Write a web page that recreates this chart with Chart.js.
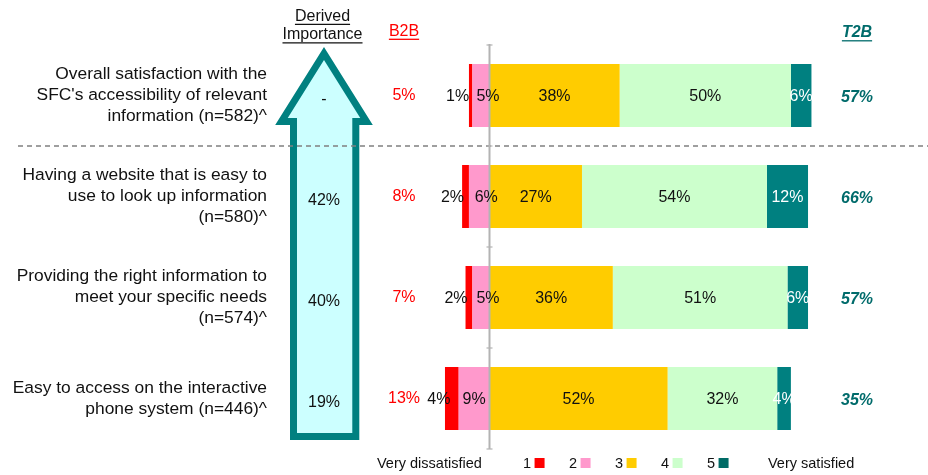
<!DOCTYPE html>
<html><head><meta charset="utf-8">
<script src="https://cdn.jsdelivr.net/npm/chart.js@4.4.1/dist/chart.umd.min.js"></script>
<style>html,body{margin:0;padding:0;background:#fff;} #wrap{width:928px;height:475px;position:relative;}</style>
</head><body><div id="wrap"><canvas id="c" width="928" height="475"></canvas></div>
<script>
const categories = [
  ["Overall satisfaction with the","SFC's accessibility of relevant","information (n=582)^"],
  ["Having a website that is easy to","use to look up information","(n=580)^"],
  ["Providing the right information to","meet your specific needs","(n=574)^"],
  ["Easy to access on the interactive","phone system (n=446)^"]
];
const scoreLabels = ["1","2","3","4","5"];
const score1 = [1,2,2,4];
const score2 = [5,6,5,9];
const score3 = [38,27,36,52];
const score4 = [50,54,51,32];
const score5 = [6,12,6,4];
const b2b = ["5%","8%","7%","13%"];
const t2b = ["57%","66%","57%","35%"];
const derivedImportance = ["-","42%","40%","19%"];

const colors = ["#ff0000","#ff99cc","#ffcc00","#ccffcc","#008080"];
const FONT = "'Liberation Sans', Arial, sans-serif";

function ds(scoreIdx, values, negative){
  return {
    label: scoreLabels[scoreIdx],
    score: scoreIdx,
    raw: values,
    data: values.map(v => negative ? -v : v),
    backgroundColor: colors[scoreIdx],
    borderWidth: 0,
    barPercentage: 1,
    categoryPercentage: 0.624
  };
}

const decor = {
  id: 'decor',
  beforeDatasetsDraw(chart){
    const ctx = chart.ctx, y = chart.scales.y, x = chart.scales.x;
    ctx.save();
    // left category labels
    ctx.fillStyle = '#111';
    ctx.font = "17.4px " + FONT;
    ctx.textAlign = 'right';
    ctx.textBaseline = 'middle';
    categories.forEach((lines,i)=>{
      const cy = y.getPixelForValue(i);
      lines.forEach((t,k)=>{
        ctx.fillText(t, 267, cy + (k-(lines.length-1)/2)*21);
      });
    });
    // headers
    ctx.textAlign = 'center';
    ctx.font = "16px " + FONT;
    ctx.fillStyle = '#111';
    function under(text, cx, cy, color){
      const w = ctx.measureText(text).width;
      ctx.fillText(text, cx, cy);
      ctx.strokeStyle = color; ctx.lineWidth = 1.3;
      ctx.beginPath(); ctx.moveTo(cx-w/2, cy+7.8); ctx.lineTo(cx+w/2, cy+7.8); ctx.stroke();
    }
    under("Derived", 322.5, 16.5, '#111');
    under("Importance", 322.5, 35, '#111');
    ctx.fillStyle = '#ff0000';
    under("B2B", 404, 31.5, '#ff0000');
    ctx.fillStyle = '#006b6b';
    ctx.font = "italic bold 16px " + FONT;
    under("T2B", 857, 33, '#006b6b');

    // arrow
    ctx.beginPath();
    ctx.moveTo(324, 53.5);
    ctx.lineTo(366.5, 121.5);
    ctx.lineTo(355.8, 121.5);
    ctx.lineTo(355.8, 436.5);
    ctx.lineTo(293.5, 436.5);
    ctx.lineTo(293.5, 121.5);
    ctx.lineTo(281.5, 121.5);
    ctx.closePath();
    ctx.fillStyle = '#ccffff';
    ctx.fill();
    ctx.lineJoin = 'miter';
    ctx.lineWidth = 7;
    ctx.strokeStyle = '#008080';
    ctx.stroke();

    // arrow values and B2B
    ctx.font = "16px " + FONT;
    ctx.textAlign = 'center';
    derivedImportance.forEach((t,i)=>{
      ctx.fillStyle = '#111';
      ctx.fillText(t, 324, y.getPixelForValue(i)+4);
    });
    b2b.forEach((t,i)=>{
      ctx.fillStyle = '#ff0000';
      ctx.fillText(t, 404, y.getPixelForValue(i)+0.5);
    });

    // dashed separator between first and second category
    const sepY = (y.getPixelForValue(0)+y.getPixelForValue(1))/2;
    ctx.setLineDash([5,4]);
    ctx.strokeStyle = '#808080';
    ctx.lineWidth = 1.3;
    ctx.beginPath(); ctx.moveTo(18, sepY); ctx.lineTo(928, sepY); ctx.stroke();
    ctx.setLineDash([]);
    ctx.restore();
  },
  afterDatasetsDraw(chart){
    const ctx = chart.ctx, y = chart.scales.y, x = chart.scales.x, ca = chart.chartArea;
    ctx.save();
    // zero axis line
    const x0 = x.getPixelForValue(0);
    ctx.strokeStyle = '#b3b3b3';
    ctx.lineWidth = 2;
    ctx.beginPath(); ctx.moveTo(x0, ca.top-1); ctx.lineTo(x0, ca.bottom); ctx.stroke();
    ctx.lineWidth = 1.2;
    const step = y.getPixelForValue(1) - y.getPixelForValue(0);
    for (let i=0;i<=categories.length;i++){
      const ty = y.getPixelForValue(0) - step/2 + i*step;
      ctx.beginPath(); ctx.moveTo(x0-3, ty); ctx.lineTo(x0+3, ty); ctx.stroke();
    }
    // data labels
    ctx.font = "16px " + FONT;
    ctx.textAlign = 'center';
    ctx.textBaseline = 'middle';
    chart.data.datasets.forEach((d,di)=>{
      const meta = chart.getDatasetMeta(di);
      meta.data.forEach((el,i)=>{
        const v = d.raw[i];
        let cx = (el.x + el.base)/2;
        if (d.score === 0) cx -= 13;
        if (d.score === 1 && v <= 6) cx += 7;
        ctx.fillStyle = d.score === 4 ? '#ffffff' : '#111';
        ctx.fillText(v + '%', cx, el.y + 1);
      });
    });
    // T2B values
    ctx.font = "italic bold 16px " + FONT;
    ctx.fillStyle = '#006b6b';
    t2b.forEach((t,i)=>{ ctx.fillText(t, 857, y.getPixelForValue(i)+2); });

    // legend
    ctx.font = "14.5px " + FONT;
    ctx.fillStyle = '#111';
    ctx.textAlign = 'left';
    const ly = 464;
    ctx.fillText("Very dissatisfied", 377, ly);
    scoreLabels.forEach((s,i)=>{
      const lx = 523 + i*46;
      ctx.fillStyle = '#111';
      ctx.fillText(s, lx, ly);
      const w = ctx.measureText(s).width;
      ctx.fillStyle = i === 4 ? '#006b66' : colors[i];
      ctx.fillRect(lx + w + 3.5, ly-6, 10, 10);
    });
    ctx.fillStyle = '#111';
    ctx.fillText("Very satisfied", 768, ly);
    ctx.restore();
  }
};

new Chart(document.getElementById('c'), {
  type: 'bar',
  data: {
    labels: categories.map(c => c.join(' ')),
    datasets: [
      ds(1, score2, true),
      ds(0, score1, true),
      ds(2, score3, false),
      ds(3, score4, false),
      ds(4, score5, false)
    ]
  },
  options: {
    indexAxis: 'y',
    responsive: false,
    animation: false,
    devicePixelRatio: 1,
    layout: { padding: { left: 421, right: 96, top: 45, bottom: 26 } },
    scales: {
      x: { type: 'linear', min: -20, max: 100, stacked: true, display: false },
      y: { type: 'category', stacked: true, display: false }
    },
    plugins: { legend: { display: false }, tooltip: { enabled: false } }
  },
  plugins: [decor]
});
</script>
</body></html>
